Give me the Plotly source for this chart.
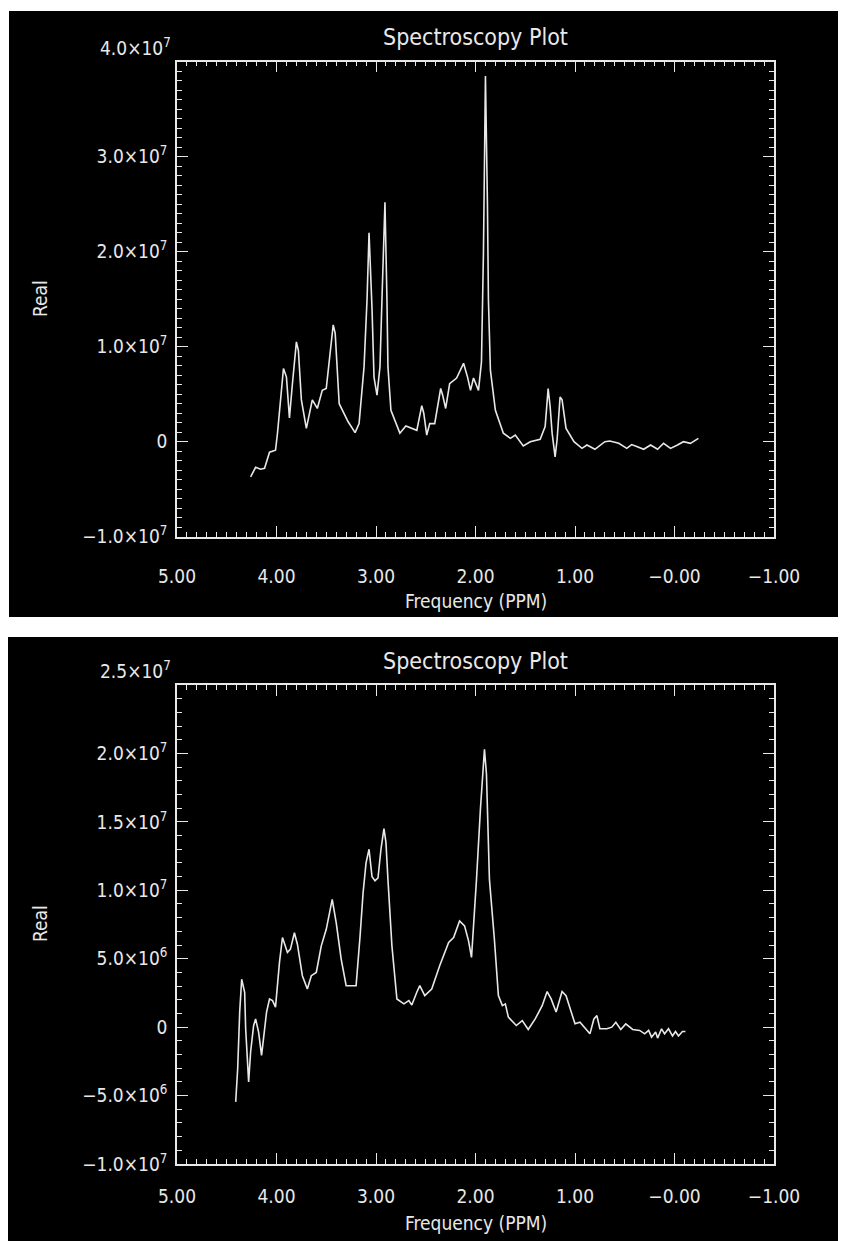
import plotly.graph_objects as go

W, H = 846, 1241

# ---------------- data ----------------
top_ppm = [4.26, 4.21, 4.16, 4.12, 4.07, 4.01, 3.99, 3.96, 3.93, 3.90, 3.87, 3.84, 3.80, 3.78,
           3.75, 3.70, 3.64, 3.59, 3.54, 3.50, 3.43, 3.41, 3.37, 3.28, 3.21, 3.17, 3.12, 3.09,
           3.07, 3.04, 3.02, 2.99, 2.96, 2.94, 2.91, 2.89, 2.88, 2.85, 2.76, 2.70, 2.59, 2.54,
           2.52, 2.49, 2.46, 2.41, 2.35, 2.33, 2.30, 2.26, 2.19, 2.12, 2.08, 2.05, 2.02, 1.97,
           1.94, 1.92, 1.90, 1.88, 1.87, 1.85, 1.80, 1.72, 1.65, 1.60, 1.52, 1.45, 1.35, 1.30,
           1.27, 1.25, 1.23, 1.20, 1.18, 1.15, 1.13, 1.09, 1.01, 0.93, 0.88, 0.80, 0.70, 0.65,
           0.56, 0.48, 0.43, 0.38, 0.31, 0.24, 0.17, 0.11, 0.04, -0.03, -0.09, -0.16, -0.19, -0.24]
top_real = [-3.7e6, -2.7e6, -2.9e6, -2.8e6, -1.1e6, -0.9e6, 0.9e6, 4.7e6, 7.7e6, 6.8e6, 2.5e6,
            6.1e6, 10.5e6, 9.6e6, 4.4e6, 1.4e6, 4.4e6, 3.5e6, 5.4e6, 5.6e6, 12.3e6, 11.4e6, 4.0e6,
            2.1e6, 0.95e6, 1.9e6, 7.9e6, 15.0e6, 22.0e6, 14.0e6, 6.8e6, 4.9e6, 7.9e6, 15.0e6,
            25.2e6, 15.0e6, 7.9e6, 3.3e6, 0.9e6, 1.65e6, 1.2e6, 3.8e6, 3.0e6, 0.7e6, 1.9e6, 1.9e6,
            5.6e6, 4.9e6, 3.5e6, 6.1e6, 6.7e6, 8.25e6, 6.8e6, 5.4e6, 6.7e6, 5.4e6, 8.4e6, 20.0e6,
            38.5e6, 25.0e6, 14.9e6, 7.5e6, 3.3e6, 0.9e6, 0.35e6, 0.7e6, -0.45e6, 0.0, 0.25e6,
            1.6e6, 5.6e6, 3.7e6, 0.9e6, -1.6e6, 0.2e6, 4.7e6, 4.4e6, 1.4e6, 0.0, -0.7e6, -0.35e6,
            -0.8e6, 0.0, 0.07e6, -0.17e6, -0.7e6, -0.3e6, -0.5e6, -0.8e6, -0.35e6, -0.8e6,
            -0.17e6, -0.7e6, -0.35e6, 0.0, -0.17e6, 0.0, 0.35e6]

bot_ppm = [4.41, 4.39, 4.37, 4.35, 4.32, 4.31, 4.28, 4.26, 4.23, 4.21, 4.18, 4.15, 4.10, 4.07,
           4.04, 4.01, 3.97, 3.94, 3.89, 3.86, 3.82, 3.79, 3.74, 3.69, 3.65, 3.60, 3.55, 3.50,
           3.44, 3.40, 3.35, 3.30, 3.24, 3.20, 3.16, 3.13, 3.10, 3.07, 3.04, 3.01, 2.98, 2.95,
           2.92, 2.90, 2.88, 2.84, 2.79, 2.72, 2.67, 2.64, 2.59, 2.56, 2.51, 2.44, 2.36, 2.27,
           2.22, 2.16, 2.11, 2.07, 2.04, 2.01, 1.99, 1.95, 1.91, 1.89, 1.86, 1.81, 1.77, 1.73,
           1.70, 1.67, 1.59, 1.53, 1.47, 1.40, 1.33, 1.28, 1.24, 1.19, 1.13, 1.09, 1.05, 1.00,
           0.95, 0.88, 0.85, 0.81, 0.78, 0.75, 0.68, 0.63, 0.59, 0.54, 0.49, 0.42, 0.35, 0.30,
           0.26, 0.23, 0.19, 0.17, 0.13, 0.10, 0.06, 0.02, -0.01, -0.04, -0.08, -0.11]
bot_real = [-5.46e6, -3.0e6, 1.1e6, 3.5e6, 2.55e6, -0.1e6, -4.0e6, -1.8e6, 0.1e6, 0.6e6, -0.36e6,
            -2.07e6, 1.1e6, 2.06e6, 1.94e6, 1.46e6, 4.73e6, 6.55e6, 5.46e6, 5.7e6, 6.9e6, 6.06e6,
            3.76e6, 2.79e6, 3.76e6, 4.0e6, 5.94e6, 7.15e6, 9.34e6, 7.64e6, 4.97e6, 3.03e6, 3.03e6,
            3.03e6, 6.67e6, 9.8e6, 12.0e6, 13.0e6, 11.0e6, 10.7e6, 10.9e6, 13.0e6, 14.5e6, 13.5e6,
            10.8e6, 5.94e6, 2.06e6, 1.7e6, 1.94e6, 1.62e6, 2.55e6, 3.03e6, 2.3e6, 2.79e6, 4.48e6,
            6.19e6, 6.55e6, 7.76e6, 7.4e6, 6.3e6, 5.1e6, 8.37e6, 10.8e6, 16.0e6, 20.3e6, 18.5e6,
            10.8e6, 6.4e6, 2.3e6, 1.57e6, 1.7e6, 0.73e6, 0.12e6, 0.48e6, -0.17e6, 0.6e6, 1.57e6,
            2.6e6, 2.06e6, 1.1e6, 2.6e6, 2.3e6, 1.33e6, 0.24e6, 0.36e6, -0.24e6, -0.49e6, 0.6e6,
            0.84e6, -0.12e6, -0.12e6, 0.0, 0.36e6, -0.17e6, 0.24e6, -0.17e6, -0.24e6, -0.49e6,
            -0.24e6, -0.73e6, -0.36e6, -0.8e6, -0.12e6, -0.49e6, -0.12e6, -0.65e6, -0.32e6,
            -0.65e6, -0.32e6, -0.32e6]

x_tickvals = [5, 4, 3, 2, 1, 0, -1]
x_ticktext = ["5.00", "4.00", "3.00", "2.00", "1.00", "\u22120.00", "\u22121.00"]

top_y_tickvals = [-1e7, 0, 1e7, 2e7, 3e7, 4e7]
top_y_ticktext = ["\u22121.0\u00d710<sup>7</sup>", "0", "1.0\u00d710<sup>7</sup>",
                  "2.0\u00d710<sup>7</sup>", "3.0\u00d710<sup>7</sup>", "4.0\u00d710<sup>7</sup>"]
bot_y_tickvals = [-1e7, -5e6, 0, 5e6, 1e7, 1.5e7, 2e7, 2.5e7]
bot_y_ticktext = ["\u22121.0\u00d710<sup>7</sup>", "\u22125.0\u00d710<sup>6</sup>", "0",
                  "5.0\u00d710<sup>6</sup>", "1.0\u00d710<sup>7</sup>", "1.5\u00d710<sup>7</sup>",
                  "2.0\u00d710<sup>7</sup>", "2.5\u00d710<sup>7</sup>"]

title_text = "Spectroscopy Plot"
x_title = "Frequency (PPM)"
y_title = "Real"

# ---------------- layout helpers ----------------
FONT = "Liberation Sans Narrow, DejaVu Sans Condensed, Liberation Sans, sans-serif"
FG = "#e8e8e8"
OFF = 8  # page body margin: the figure is drawn 8 px right/down of the window corner


def px_x(x):
    return (x - OFF) / W


def px_y(y):
    return 1 - (y - OFF) / H


X0, X1 = 177, 774
panels = [
    dict(box=(9, 11, 860, 617), plot=(61.7, 536.7), yr=[-1e7, 4e7],
         tv=top_y_tickvals, tt=top_y_ticktext, title_y=37, xt_y=601, yt_y=299, xstand=22),
    dict(box=(7, 637, 860, 1260), plot=(685, 1164), yr=[-1e7, 2.5e7],
         tv=bot_y_tickvals, tt=bot_y_ticktext, title_y=661, xt_y=1223, yt_y=924, xstand=14),
]

fig = go.Figure()
fig.add_trace(go.Scatter(x=top_ppm, y=top_real, mode="lines",
                         line=dict(color=FG, width=1.6), xaxis="x", yaxis="y",
                         showlegend=False, hoverinfo="skip"))
fig.add_trace(go.Scatter(x=bot_ppm, y=bot_real, mode="lines",
                         line=dict(color=FG, width=1.6), xaxis="x2", yaxis="y2",
                         showlegend=False, hoverinfo="skip"))

shapes = []
annotations = []
layout = dict(width=W, height=H, margin=dict(l=0, r=0, t=0, b=0, autoexpand=False),
              paper_bgcolor="white", plot_bgcolor="black", showlegend=False)

for i, p in enumerate(panels):
    sfx = "" if i == 0 else str(i + 1)
    bx0, by0, bx1, by1 = p["box"]
    shapes.append(dict(type="rect", xref="paper", yref="paper", layer="below",
                       x0=px_x(bx0), x1=px_x(bx1), y0=px_y(by1), y1=px_y(by0),
                       fillcolor="black", line=dict(width=0)))
    pt, pb = p["plot"]
    # the topmost y label sits a little above the box corner in the reference,
    # so it is drawn as an annotation; the others stay as axis tick labels
    tick_text = list(p["tt"][:-1]) + [""]
    layout["xaxis" + sfx] = dict(
        domain=[px_x(X0), px_x(X1)], range=[5, -1], anchor="y" + sfx,
        tickmode="array", tickvals=x_tickvals, ticktext=x_ticktext,
        ticks="inside", ticklen=11, tickwidth=1.2, tickcolor=FG,
        minor=dict(tickmode="linear", tick0=0, dtick=0.1, ticks="inside",
                   ticklen=5, tickwidth=1, tickcolor=FG),
        showline=True, linecolor=FG, linewidth=1.5, mirror="ticks",
        showgrid=False, zeroline=False, ticklabelstandoff=p["xstand"],
        tickfont=dict(family=FONT, size=19, color=FG))
    layout["yaxis" + sfx] = dict(
        domain=[px_y(pb), px_y(pt)], range=p["yr"], anchor="x" + sfx,
        tickmode="array", tickvals=p["tv"], ticktext=tick_text,
        ticks="inside", ticklen=11, tickwidth=1.2, tickcolor=FG,
        minor=dict(tickmode="linear", tick0=0, dtick=1e6, ticks="inside",
                   ticklen=5, tickwidth=1, tickcolor=FG),
        showline=True, linecolor=FG, linewidth=1.5, mirror="ticks",
        showgrid=False, zeroline=False, ticklabelstandoff=4,
        tickfont=dict(family=FONT, size=19, color=FG))
    annotations.append(dict(text=p["tt"][-1], xref="paper", yref="y" + sfx,
                            x=px_x(X0 - 4), y=p["tv"][-1], yshift=15,
                            xanchor="right", yanchor="middle", showarrow=False,
                            font=dict(family=FONT, size=19, color=FG)))
    annotations.append(dict(text=title_text, xref="paper", yref="paper",
                            x=px_x((X0 + X1) / 2), y=px_y(p["title_y"]),
                            xanchor="center", yanchor="middle", showarrow=False,
                            font=dict(family=FONT, size=23, color=FG)))
    annotations.append(dict(text=x_title, xref="paper", yref="paper",
                            x=px_x((X0 + X1) / 2), y=px_y(p["xt_y"]),
                            xanchor="center", yanchor="middle", showarrow=False,
                            font=dict(family=FONT, size=19, color=FG)))
    annotations.append(dict(text=y_title, xref="paper", yref="paper",
                            x=px_x(40), y=px_y(p["yt_y"]), textangle=-90,
                            xanchor="center", yanchor="middle", showarrow=False,
                            font=dict(family=FONT, size=19, color=FG)))

layout["shapes"] = shapes
layout["annotations"] = annotations
fig.update_layout(**layout)
fig.write_html("out.html")
